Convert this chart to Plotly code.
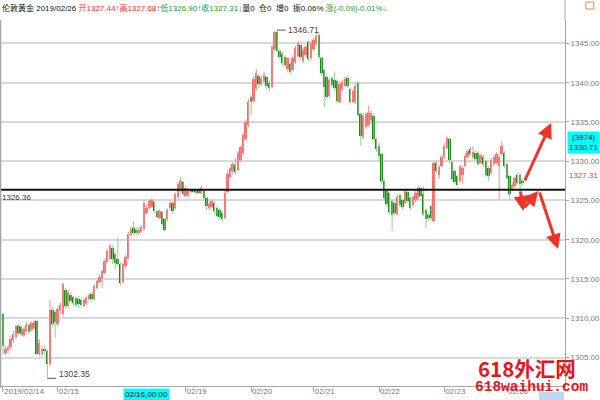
import plotly.graph_objects as go

# ---------------- data (hourly bars, London gold) ----------------
open_ = [1310.5, 1305.6, 1305.9, 1306.3, 1307.2, 1307.6, 1309.0, 1308.9, 1307.9, 1308.4,
         1309.2, 1308.5, 1308.8, 1309.6, 1305.4, 1305.5, 1306.1, 1305.8, 1304.2, 1311.1,
         1310.8, 1309.3, 1311.0, 1310.5, 1313.6, 1311.5, 1313.0, 1312.7, 1312.6, 1312.5,
         1312.3, 1311.6, 1311.9, 1312.4, 1313.1, 1312.5, 1313.9, 1314.6, 1315.1, 1315.8,
         1317.2, 1317.6, 1319.0, 1318.2, 1317.6, 1316.9, 1314.6, 1316.6, 1317.7, 1320.6,
         1321.5, 1321.3, 1320.8, 1321.1, 1321.4, 1323.4, 1324.0, 1324.2, 1324.8, 1323.6,
         1322.8, 1323.5, 1322.6, 1322.6, 1324.0, 1324.7, 1324.0, 1325.4, 1326.2, 1327.3,
         1325.6, 1325.7, 1326.3, 1326.3, 1326.0, 1326.3, 1326.0, 1326.2, 1325.3, 1324.0,
         1324.2, 1324.7, 1324.1, 1323.8, 1323.4, 1322.8, 1326.1, 1328.0, 1328.7, 1329.5,
         1328.9, 1330.2, 1331.0, 1332.8, 1334.6, 1338.2, 1337.7, 1339.3, 1340.9, 1339.9,
         1340.2, 1340.7, 1340.0, 1339.5, 1344.3, 1346.5, 1344.1, 1343.7, 1343.3, 1341.7,
         1342.4, 1341.6, 1342.6, 1343.4, 1344.8, 1342.8, 1343.5, 1345.2, 1343.1, 1344.3,
         1345.0, 1346.1, 1343.1, 1341.6, 1340.7, 1338.3, 1340.6, 1340.4, 1340.2, 1337.6,
         1339.2, 1339.6, 1340.6, 1339.2, 1337.6, 1337.5, 1340.0, 1336.0, 1333.1, 1334.4,
         1334.6, 1335.2, 1335.8, 1332.8, 1332.0, 1330.9, 1327.5, 1326.2, 1325.9, 1324.9,
         1324.7, 1323.3, 1325.7, 1325.0, 1324.7, 1326.1, 1325.3, 1324.4, 1325.0, 1325.3,
         1326.6, 1325.8, 1323.8, 1323.2, 1324.3, 1322.4, 1329.8, 1328.3, 1329.4, 1330.5,
         1331.7, 1332.8, 1329.9, 1328.8, 1328.1, 1327.5, 1328.3, 1329.4, 1330.5, 1331.5,
         1330.5, 1331.1, 1331.1, 1329.8, 1330.6, 1330.0, 1329.2, 1328.5, 1329.6, 1329.8,
         1329.4, 1330.9, 1331.1, 1329.6, 1328.1, 1326.4, 1326.8, 1328.3, 1328.3, 1327.44]
high = [1310.7, 1306.5, 1306.6, 1307.8, 1308.4, 1309.2, 1309.3, 1309.1, 1308.8, 1309.5,
        1309.4, 1309.6, 1309.8, 1309.8, 1307.3, 1306.5, 1306.6, 1306.0, 1312.4, 1311.5,
        1311.0, 1311.6, 1312.0, 1314.5, 1313.9, 1313.6, 1313.3, 1312.9, 1312.8, 1312.8,
        1312.6, 1312.6, 1312.8, 1313.2, 1313.3, 1314.3, 1314.9, 1315.6, 1316.2, 1317.6,
        1318.8, 1319.5, 1319.3, 1318.4, 1320.3, 1317.1, 1317.2, 1318.1, 1321.0, 1321.7,
        1322.4, 1321.6, 1321.6, 1321.9, 1325.0, 1324.5, 1325.1, 1325.3, 1325.0, 1323.8,
        1323.9, 1323.7, 1322.8, 1324.0, 1325.0, 1324.9, 1326.0, 1327.3, 1328.0, 1327.5,
        1326.9, 1326.6, 1326.5, 1326.4, 1326.5, 1326.5, 1326.9, 1326.4, 1325.5, 1324.9,
        1325.1, 1324.9, 1324.3, 1324.0, 1323.6, 1326.4, 1328.8, 1329.3, 1329.9, 1330.5,
        1331.3, 1332.0, 1333.6, 1335.3, 1337.9, 1338.4, 1340.8, 1341.8, 1341.1, 1340.9,
        1341.4, 1340.9, 1340.3, 1344.8, 1346.6, 1346.71, 1344.3, 1343.9, 1343.5, 1343.3,
        1342.6, 1343.5, 1344.7, 1345.3, 1345.0, 1344.5, 1344.8, 1345.4, 1345.3, 1345.7,
        1346.3, 1346.4, 1343.3, 1341.8, 1340.9, 1340.6, 1340.8, 1341.4, 1340.4, 1340.0,
        1340.4, 1340.8, 1340.9, 1339.4, 1339.2, 1339.9, 1340.2, 1336.2, 1336.1, 1336.3,
        1337.1, 1336.4, 1336.0, 1333.0, 1332.3, 1331.1, 1327.7, 1326.4, 1326.1, 1325.1,
        1324.9, 1325.8, 1325.9, 1325.2, 1326.5, 1326.3, 1325.5, 1325.6, 1326.3, 1326.9,
        1326.8, 1326.8, 1324.0, 1323.4, 1324.5, 1330.0, 1330.1, 1329.5, 1330.8, 1332.3,
        1333.2, 1333.0, 1330.1, 1329.0, 1328.3, 1329.6, 1329.4, 1330.9, 1331.5, 1331.8,
        1331.9, 1331.3, 1331.3, 1331.0, 1330.8, 1330.2, 1329.4, 1330.4, 1330.8, 1331.2,
        1330.8, 1332.6, 1331.3, 1329.8, 1328.3, 1327.3, 1328.1, 1328.5, 1328.5, 1327.68]
low = [1305.4, 1305.3, 1305.6, 1306.0, 1306.9, 1307.4, 1307.8, 1307.7, 1307.6, 1308.2,
       1308.0, 1308.3, 1308.6, 1305.3, 1305.2, 1305.2, 1305.3, 1302.35, 1303.9, 1308.9,
       1307.5, 1309.0, 1310.6, 1310.2, 1311.2, 1311.2, 1311.9, 1311.6, 1311.4, 1311.3,
       1311.5, 1311.4, 1311.7, 1312.2, 1312.1, 1312.3, 1313.7, 1314.3, 1313.9, 1315.6,
       1317.0, 1317.3, 1316.9, 1316.2, 1316.6, 1314.2, 1314.4, 1316.3, 1317.5, 1320.4,
       1320.7, 1320.5, 1320.6, 1320.9, 1321.2, 1323.2, 1323.8, 1324.0, 1323.4, 1322.7,
       1322.6, 1321.8, 1321.0, 1322.4, 1323.8, 1323.3, 1323.8, 1325.2, 1326.0, 1325.6,
       1325.4, 1325.5, 1325.9, 1325.9, 1325.8, 1325.8, 1325.8, 1325.0, 1323.8, 1323.8,
       1324.0, 1323.3, 1322.8, 1322.5, 1322.3, 1322.6, 1325.9, 1327.8, 1328.4, 1328.3,
       1328.7, 1330.0, 1330.8, 1332.6, 1334.4, 1335.8, 1337.5, 1339.0, 1339.3, 1339.6,
       1340.0, 1339.2, 1338.9, 1339.3, 1344.0, 1343.9, 1343.0, 1342.2, 1342.0, 1341.5,
       1341.1, 1341.4, 1342.4, 1343.1, 1342.9, 1342.5, 1343.2, 1342.8, 1342.9, 1344.0,
       1344.8, 1343.0, 1340.9, 1336.9, 1337.9, 1338.1, 1339.4, 1339.0, 1337.4, 1337.4,
       1339.0, 1339.4, 1339.3, 1337.2, 1337.4, 1337.3, 1335.7, 1332.0, 1332.9, 1334.1,
       1334.4, 1335.0, 1332.5, 1331.2, 1330.0, 1327.2, 1325.0, 1324.3, 1323.2, 1321.1,
       1323.1, 1323.1, 1324.1, 1323.9, 1324.5, 1324.6, 1323.8, 1324.2, 1324.8, 1325.1,
       1325.4, 1323.0, 1321.5, 1322.4, 1322.5, 1322.2, 1328.5, 1327.7, 1329.2, 1330.3,
       1331.5, 1329.8, 1327.5, 1327.1, 1326.8, 1327.3, 1327.1, 1329.2, 1330.3, 1330.7,
       1330.3, 1330.1, 1329.4, 1329.6, 1329.3, 1328.0, 1327.5, 1328.3, 1329.4, 1329.6,
       1325.1, 1330.7, 1329.2, 1327.7, 1325.1, 1326.2, 1326.6, 1327.0, 1325.6, 1326.90]
close = [1306.5, 1306.1, 1306.3, 1307.4, 1308.0, 1309.0, 1308.1, 1308.0, 1308.6, 1309.2,
         1308.2, 1309.4, 1309.5, 1305.5, 1306.9, 1306.1, 1305.8, 1304.2, 1311.1, 1309.3,
         1309.5, 1311.2, 1311.7, 1314.3, 1311.6, 1313.4, 1312.2, 1312.0, 1311.7, 1311.8,
         1311.7, 1312.3, 1312.6, 1313.0, 1312.4, 1314.1, 1314.7, 1315.3, 1316.0, 1317.3,
         1318.6, 1319.2, 1317.6, 1317.1, 1316.9, 1314.5, 1316.9, 1317.8, 1320.7, 1321.4,
         1320.9, 1320.8, 1321.3, 1321.6, 1324.7, 1324.1, 1324.9, 1325.0, 1323.6, 1322.9,
         1323.6, 1322.0, 1321.3, 1323.8, 1324.7, 1323.6, 1325.8, 1327.1, 1327.5, 1325.8,
         1326.6, 1326.3, 1326.1, 1326.1, 1326.3, 1326.0, 1326.6, 1325.3, 1324.3, 1324.6,
         1324.9, 1323.6, 1323.0, 1322.9, 1322.7, 1325.9, 1328.4, 1329.1, 1329.6, 1328.6,
         1331.0, 1331.8, 1333.4, 1335.0, 1337.6, 1337.5, 1340.5, 1341.2, 1339.9, 1340.6,
         1341.0, 1339.6, 1339.3, 1344.6, 1346.5, 1344.1, 1343.3, 1342.5, 1342.2, 1343.1,
         1341.4, 1343.2, 1344.4, 1345.0, 1343.3, 1344.2, 1344.5, 1343.0, 1345.0, 1345.4,
         1346.0, 1343.3, 1341.2, 1339.4, 1338.2, 1340.3, 1339.7, 1339.3, 1337.7, 1339.8,
         1340.1, 1340.5, 1339.6, 1337.5, 1338.9, 1339.6, 1335.9, 1333.2, 1335.8, 1336.0,
         1336.2, 1336.1, 1332.8, 1331.5, 1330.7, 1327.5, 1325.3, 1324.6, 1323.5, 1323.2,
         1323.4, 1325.5, 1324.4, 1324.2, 1326.2, 1324.9, 1324.1, 1325.4, 1326.0, 1326.6,
         1325.6, 1323.3, 1322.6, 1322.8, 1322.8, 1329.8, 1328.8, 1329.3, 1330.5, 1332.0,
         1333.0, 1330.1, 1327.7, 1327.4, 1327.0, 1329.4, 1329.2, 1330.7, 1331.3, 1330.9,
         1331.2, 1330.3, 1329.6, 1330.8, 1329.6, 1328.3, 1328.1, 1330.2, 1330.6, 1330.9,
         1330.5, 1332.0, 1329.4, 1327.9, 1325.8, 1327.0, 1327.9, 1327.2, 1327.1, 1327.31]

tick_idx = [0, 21, 70, 95, 119, 144, 169, 193]
tick_text = ["2019/02/14", "02/15", "02/19", "02/20", "02/21", "02/22", "02/23", "02/26"]
y_ticks = [1305, 1310, 1315, 1320, 1325, 1330, 1335, 1340, 1345]
ref_price = 1326.36
cross_idx = 46
cross_label = "02/16,00:00"
cross_price = 1330.71
cross_count = "(3974)"
last_price = 1327.31

# ---------------- styling ----------------
UP_BODY = "#f56a6a"
UP_WICK = "#f58e8e"
DN_BODY = "#168a16"
DN_WICK = "#8fcf8f"
AX_COL = "#a6a6a6"
LBL_COL = "#7a7a7a"
FONT = "Liberation Sans, Noto Sans CJK SC, sans-serif"

n = len(close)
idx = list(range(n))
up = [i for i in idx if close[i] >= open_[i]]
dn = [i for i in idx if close[i] < open_[i]]


def wicks(ids):
    xs, ys = [], []
    for i in ids:
        xs += [i, i, None]
        ys += [low[i], high[i], None]
    return xs, ys


fig = go.Figure()
for ids, wc in ((up, UP_WICK), (dn, DN_WICK)):
    wx, wy = wicks(ids)
    fig.add_trace(go.Scatter(x=wx, y=wy, mode="lines", line=dict(color=wc, width=1),
                             hoverinfo="skip", connectgaps=False))
for ids, bc in ((up, UP_BODY), (dn, DN_BODY)):
    fig.add_trace(go.Bar(
        x=ids,
        y=[max(abs(close[i] - open_[i]), 0.08) for i in ids],
        base=[min(close[i], open_[i]) for i in ids],
        width=0.72, marker=dict(color=bc, line=dict(width=0)),
        hoverinfo="skip"))

# plot geometry (pixels)
W, H = 600, 400
ML, MR, MT, MB = 0, 31, 20, 14
PW, PH = W - ML - MR, H - MT - MB


def px(xp):
    return (xp - ML) / PW


def py(yp):
    return (H - MB - yp) / PH


shapes = [
    dict(type="line", xref="paper", yref="y", x0=0, x1=1, y0=ref_price, y1=ref_price,
         line=dict(color="#111111", width=2)),
    dict(type="line", xref="paper", yref="paper", x0=0.001, x1=0.001, y0=0, y1=1,
         line=dict(color=AX_COL, width=1.5)),
    dict(type="line", xref="paper", yref="paper", x0=1, x1=1, y0=1, y1=py(0),
         line=dict(color=AX_COL, width=1)),
    dict(type="rect", xref="paper", yref="paper", x0=px(590), x1=px(598), y0=py(9), y1=py(2),
         line=dict(color="#f0884a", width=1)),
    dict(type="rect", xref="paper", yref="paper", x0=px(543), x1=px(568), y0=py(400), y1=py(392),
         line=dict(width=0), fillcolor="#bcd8f2"),
]

# max / min markers from the data
imax = max(idx, key=lambda i: high[i])
imin = min(idx, key=lambda i: low[i])
shapes.append(dict(type="line", xref="x", yref="y", x0=imax, x1=imax + 3.3,
                   y0=high[imax], y1=high[imax], line=dict(color="#555555", width=1)))
shapes.append(dict(type="line", xref="x", yref="y", x0=imin, x1=imin + 3.3,
                   y0=low[imin], y1=low[imin], line=dict(color="#555555", width=1)))

header = ('伦敦黄金 2019/02/26 '
          '<span style="color:#ff2b2b">开1327.44↑高1327.68↑</span>'
          '<span style="color:#2c9a2c">低1326.90↑收1327.31↓</span>'
          '量0  仓0  增0  振0.06% '
          '<span style="color:#2c9a2c">涨(-0.09)-0.01%↓</span>')

ann = [
    dict(text=header, xref="paper", yref="paper", x=px(0), y=py(1), xanchor="left",
         yanchor="top", showarrow=False, font=dict(family=FONT, size=8, color="#111111")),
    dict(text=f"{ref_price:.2f}", xref="paper", yref="y", x=px(0), y=ref_price,
         xanchor="left", yanchor="top", yshift=-1, showarrow=False,
         font=dict(family=FONT, size=8, color="#333333")),
    dict(text=f"{high[imax]:.2f}", xref="x", yref="y", x=imax + 3.4, y=high[imax],
         xanchor="left", yanchor="middle", showarrow=False,
         font=dict(family=FONT, size=8.5, color="#444444")),
    dict(text=f"{low[imin]:.2f}", xref="x", yref="y", x=imin + 3.6, y=low[imin],
         xanchor="left", yanchor="bottom", yshift=-3, showarrow=False,
         font=dict(family=FONT, size=8.5, color="#444444")),
    dict(text=f"{cross_count}<br>{cross_price:.2f}", xref="paper", yref="y", x=px(571.5),
         y=cross_price, xanchor="left", yanchor="bottom", yshift=2, showarrow=False,
         bgcolor="#00ffff", borderpad=1, font=dict(family=FONT, size=8, color="#111111")),
    dict(text=f"{last_price:.2f}", xref="paper", yref="y", x=px(571), y=last_price,
         xanchor="left", yanchor="bottom", showarrow=False,
         font=dict(family=FONT, size=8, color="#ff3030")),
    dict(text=cross_label, xref="x", yref="paper", x=cross_idx, y=py(387.5), xanchor="left",
         yanchor="top", showarrow=False, bgcolor="#00ffff", borderpad=1,
         font=dict(family=FONT, size=8, color="#111111")),
    dict(text="<b>618外汇网</b>", xref="paper", yref="paper", x=px(531), y=py(368),
         xanchor="center", yanchor="middle", showarrow=False,
         font=dict(family="Noto Sans CJK SC", size=20.5, color="#e8141b")),
    dict(text="<b>618waihui.com</b>", xref="paper", yref="paper", x=px(535), y=py(387),
         xanchor="center", yanchor="middle", showarrow=False,
         font=dict(family="Liberation Mono", size=14.5, color="#e8141b")),
]

# red hand-drawn arrows (head, tail in pixels)
arrows = [((555, 123), (528, 182)), ((527, 211), (524, 190)),
          ((542, 191), (527, 209)), ((562, 249), (543, 191))]
for (hx, hy), (tx, ty) in arrows:
    ann.append(dict(text="", xref="paper", yref="paper", x=px(hx), y=py(hy),
                    ax=tx - hx, ay=ty - hy, axref="pixel", ayref="pixel",
                    showarrow=True, arrowhead=2, arrowsize=1.0, arrowwidth=3,
                    arrowcolor="#f2332b", standoff=0))

fig.update_layout(
    width=W, height=H, margin=dict(l=ML, r=MR, t=MT, b=MB),
    paper_bgcolor="white", plot_bgcolor="white", showlegend=False,
    barmode="overlay", bargap=0,
    xaxis=dict(range=[-1.14, 215.2], showgrid=False, zeroline=False,
               showline=True, linecolor=AX_COL, linewidth=1,
               tickmode="array", tickvals=tick_idx, ticktext=tick_text,
               ticks="outside", ticklen=5, tickcolor=AX_COL,
               ticklabelposition="outside right", ticklabelstandoff=-3,
               tickfont=dict(family=FONT, size=8, color=LBL_COL), fixedrange=True),
    yaxis=dict(side="right", range=[1301.37, 1347.99], tickmode="array",
               tickvals=y_ticks, tickformat=".2f", showgrid=True,
               gridcolor="#d9d9d9", gridwidth=1.6, zeroline=False,
               showline=True, linecolor=AX_COL, linewidth=1,
               ticks="outside", ticklen=3, tickcolor=AX_COL,
               tickfont=dict(family=FONT, size=8, color=LBL_COL), fixedrange=True),
    shapes=shapes, annotations=ann,
)

fig.write_html("out.html", config={"displayModeBar": False},
               post_script="document.body.style.margin='0';document.body.style.padding='0';")
